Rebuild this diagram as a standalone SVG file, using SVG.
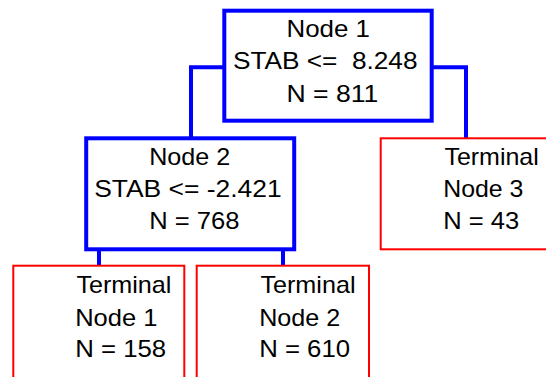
<svg xmlns="http://www.w3.org/2000/svg" width="546" height="377" viewBox="0 0 546 377">
  <style>
    .split { fill: #ffffff; stroke: #0000ff; stroke-width: 4; }
    .leaf { fill: #ffffff; stroke: #ff0000; stroke-width: 2; }
    .link { fill: none; stroke: #0000ff; stroke-width: 4; }
    text { font-family: "Liberation Sans", Arial, sans-serif; font-size: 24px; fill: #000000; }
  </style>
  <rect width="546" height="377" fill="#ffffff"/>

  <!-- tree branches -->
  <g id="connectors">
    <path class="link" d="M224.3,67.3 H191 V138.3"/>
    <path class="link" d="M431.7,67.3 H466 V138.3"/>
    <path class="link" d="M99,249.3 V265.7"/>
    <path class="link" d="M283,249.3 V265.7"/>
  </g>

  <g id="node1">
    <rect class="split" x="224.3" y="10.7" width="207.4" height="110"/>
    <text x="286.5" y="37.3" textLength="83.5" lengthAdjust="spacingAndGlyphs">Node 1</text>
    <text x="232.9" y="69.3" xml:space="preserve" textLength="184.6" lengthAdjust="spacingAndGlyphs">STAB &lt;=  8.248</text>
    <text x="286.5" y="101.7" textLength="91.9" lengthAdjust="spacingAndGlyphs">N = 811</text>
  </g>

  <g id="node2">
    <rect class="split" x="86.2" y="138.3" width="208" height="111"/>
    <text x="149.2" y="165" textLength="81" lengthAdjust="spacingAndGlyphs">Node 2</text>
    <text x="94.2" y="197.3" textLength="187.5" lengthAdjust="spacingAndGlyphs">STAB &lt;= -2.421</text>
    <text x="149.2" y="229.3" textLength="90.2" lengthAdjust="spacingAndGlyphs">N = 768</text>
  </g>

  <g id="terminal1">
    <rect class="leaf" x="13.3" y="265.7" width="171" height="130"/>
    <text x="76.4" y="293.3" textLength="95" lengthAdjust="spacingAndGlyphs">Terminal</text>
    <text x="75.2" y="326" textLength="82.2" lengthAdjust="spacingAndGlyphs">Node 1</text>
    <text x="75.2" y="357.3" textLength="91" lengthAdjust="spacingAndGlyphs">N = 158</text>
  </g>

  <g id="terminal2">
    <rect class="leaf" x="196.7" y="265.7" width="172.3" height="130"/>
    <text x="260.4" y="293.3" textLength="95.1" lengthAdjust="spacingAndGlyphs">Terminal</text>
    <text x="259.2" y="326" textLength="81" lengthAdjust="spacingAndGlyphs">Node 2</text>
    <text x="259.2" y="357.3" textLength="90.9" lengthAdjust="spacingAndGlyphs">N = 610</text>
  </g>

  <g id="terminal3">
    <rect class="leaf" x="380.7" y="138.3" width="180" height="111"/>
    <text x="444.4" y="165" textLength="94.4" lengthAdjust="spacingAndGlyphs">Terminal</text>
    <text x="443.2" y="196.7" textLength="80.2" lengthAdjust="spacingAndGlyphs">Node 3</text>
    <text x="443.2" y="229.3" textLength="75.9" lengthAdjust="spacingAndGlyphs">N = 43</text>
  </g>
</svg>
